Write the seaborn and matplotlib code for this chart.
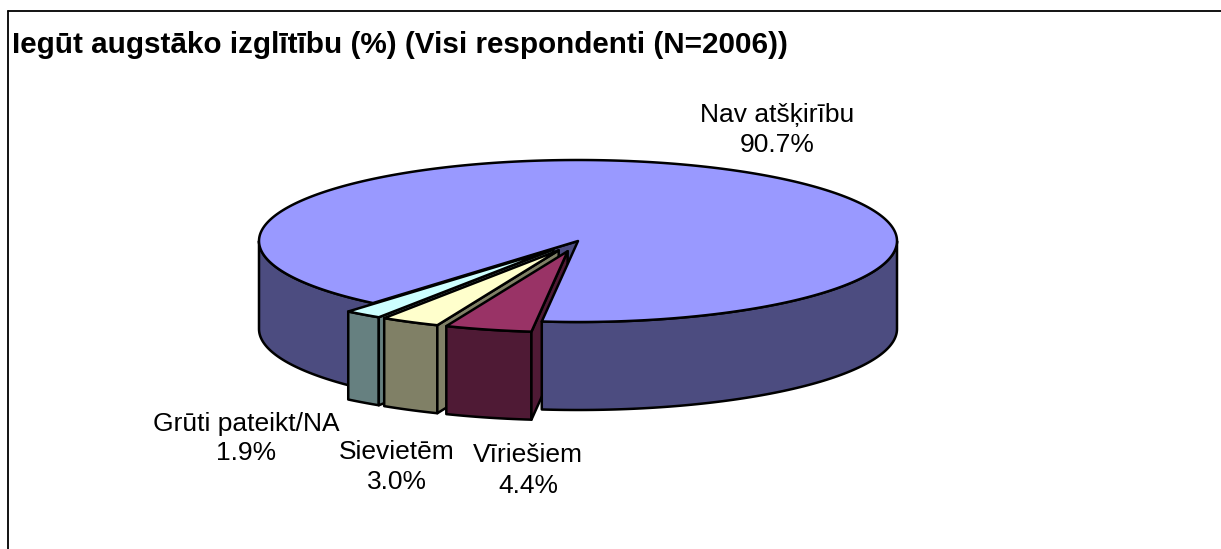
import numpy as np
import matplotlib
matplotlib.use("Agg")
import matplotlib.pyplot as plt
import seaborn as sns
from matplotlib.patches import Polygon

# data (counter-clockwise from the start angle)
labels = ["Grūti pateikt/NA", "Sievietēm", "Vīriešiem", "Nav atšķirību"]
values = [1.9, 3.0, 4.4, 90.7]
top_colors = ["#CCFFFF", "#FFFFCC", "#993366", "#9999FF"]
side_colors = ["#668080", "#808066", "#4F1A35", "#4C4C80"]
explode = [0.13, 0.13, 0.13, 0.0]
title = "Iegūt augstāko izglītību (%) (Visi respondenti (N=2006))"

# label anchors in pixels (x, name line y, percent line y)
label_pos = [(246, 424, 453), (397, 452, 482), (528, 455, 486), (777, 115, 145)]

sns.set_style("white")
plt.rcParams["font.family"] = ["Liberation Sans", "DejaVu Sans"]
plt.rcParams["text.color"] = "black"

W, H = 1221, 549
fig = plt.figure(figsize=(W / 100, H / 100), dpi=100)
ax = fig.add_axes([0, 0, 1, 1])
ax.set_xlim(0, W)
ax.set_ylim(H, 0)
ax.axis("off")

# pie geometry (pixels)
cx, cy, rx, ry, depth = 578, 241, 319, 81, 88
start = 230.0
lw = 1.8


def rim(theta, ox, oy, dz=0.0):
    t = np.radians(theta)
    return ox + rx * np.cos(t), oy - ry * np.sin(t) + dz


def arc(a0, a1, ox, oy, dz=0.0):
    n = max(int(abs(a1 - a0)), 2)
    return [rim(t, ox, oy, dz) for t in np.linspace(a0, a1, n)]


def poly(pts, fc, z):
    ax.add_patch(Polygon(pts, closed=True, facecolor=fc, edgecolor="black",
                         linewidth=lw, joinstyle="round", zorder=z))


fracs = np.array(values) / sum(values) * 360
bounds = start + np.concatenate([[0], np.cumsum(fracs)])
wedges = []
for i in range(len(values)):
    a0, a1 = bounds[i], bounds[i + 1]
    mid = np.radians((a0 + a1) / 2)
    ox = cx + explode[i] * rx * np.cos(mid)
    oy = cy - explode[i] * ry * np.sin(mid)
    wedges.append((a0, a1, ox, oy))


def walls(i, z, lo=-1e9, hi=1e9):
    a0, a1, ox, oy = wedges[i]
    for k in range(-1, 3):
        b0 = max(a0, 180 + 360 * k, lo)
        b1 = min(a1, 360 + 360 * k, hi)
        if b1 > b0:
            poly(arc(b0, b1, ox, oy) + arc(b1, b0, ox, oy, depth), side_colors[i], z)


def cuts(i, z):
    a0, a1, ox, oy = wedges[i]
    for a, nrm in [(a0, a0 - 90), (a1, a1 + 90)]:
        if np.sin(np.radians(nrm)) < 0:
            p = rim(a, ox, oy)
            poly([(ox, oy), p, (p[0], p[1] + depth), (ox, oy + depth)], side_colors[i], z)


def top(i, z):
    a0, a1, ox, oy = wedges[i]
    poly([(ox, oy)] + arc(a0, a1, ox, oy), top_colors[i], z)


big = 3
# back-left part of the big slice
cuts(big, 1)
walls(big, 1, lo=400)
# sides of the small slices, left to right
for n, i in enumerate([0, 1, 2]):
    walls(i, 2 + n)
    cuts(i, 2 + n)
# front-right wall and top of the big slice cover what lies behind
walls(big, 6, hi=400)
top(big, 7)
for n, i in enumerate([0, 1, 2]):
    top(i, 8 + n)

for i, (x, y1, y2) in enumerate(label_pos):
    ax.text(x, y1, labels[i], ha="center", va="center", fontsize=19)
    ax.text(x, y2, f"{values[i]:.1f}%", ha="center", va="center", fontsize=19)

ax.text(12, 45, title, ha="left", va="center", fontsize=21.3, fontweight="bold")

# chart frame
ax.plot([8, W + 5], [11, 11], color="black", linewidth=1.3, clip_on=False)
ax.plot([8, 8], [11, H + 5], color="black", linewidth=1.3, clip_on=False)

fig.savefig("out.png", dpi=100)
